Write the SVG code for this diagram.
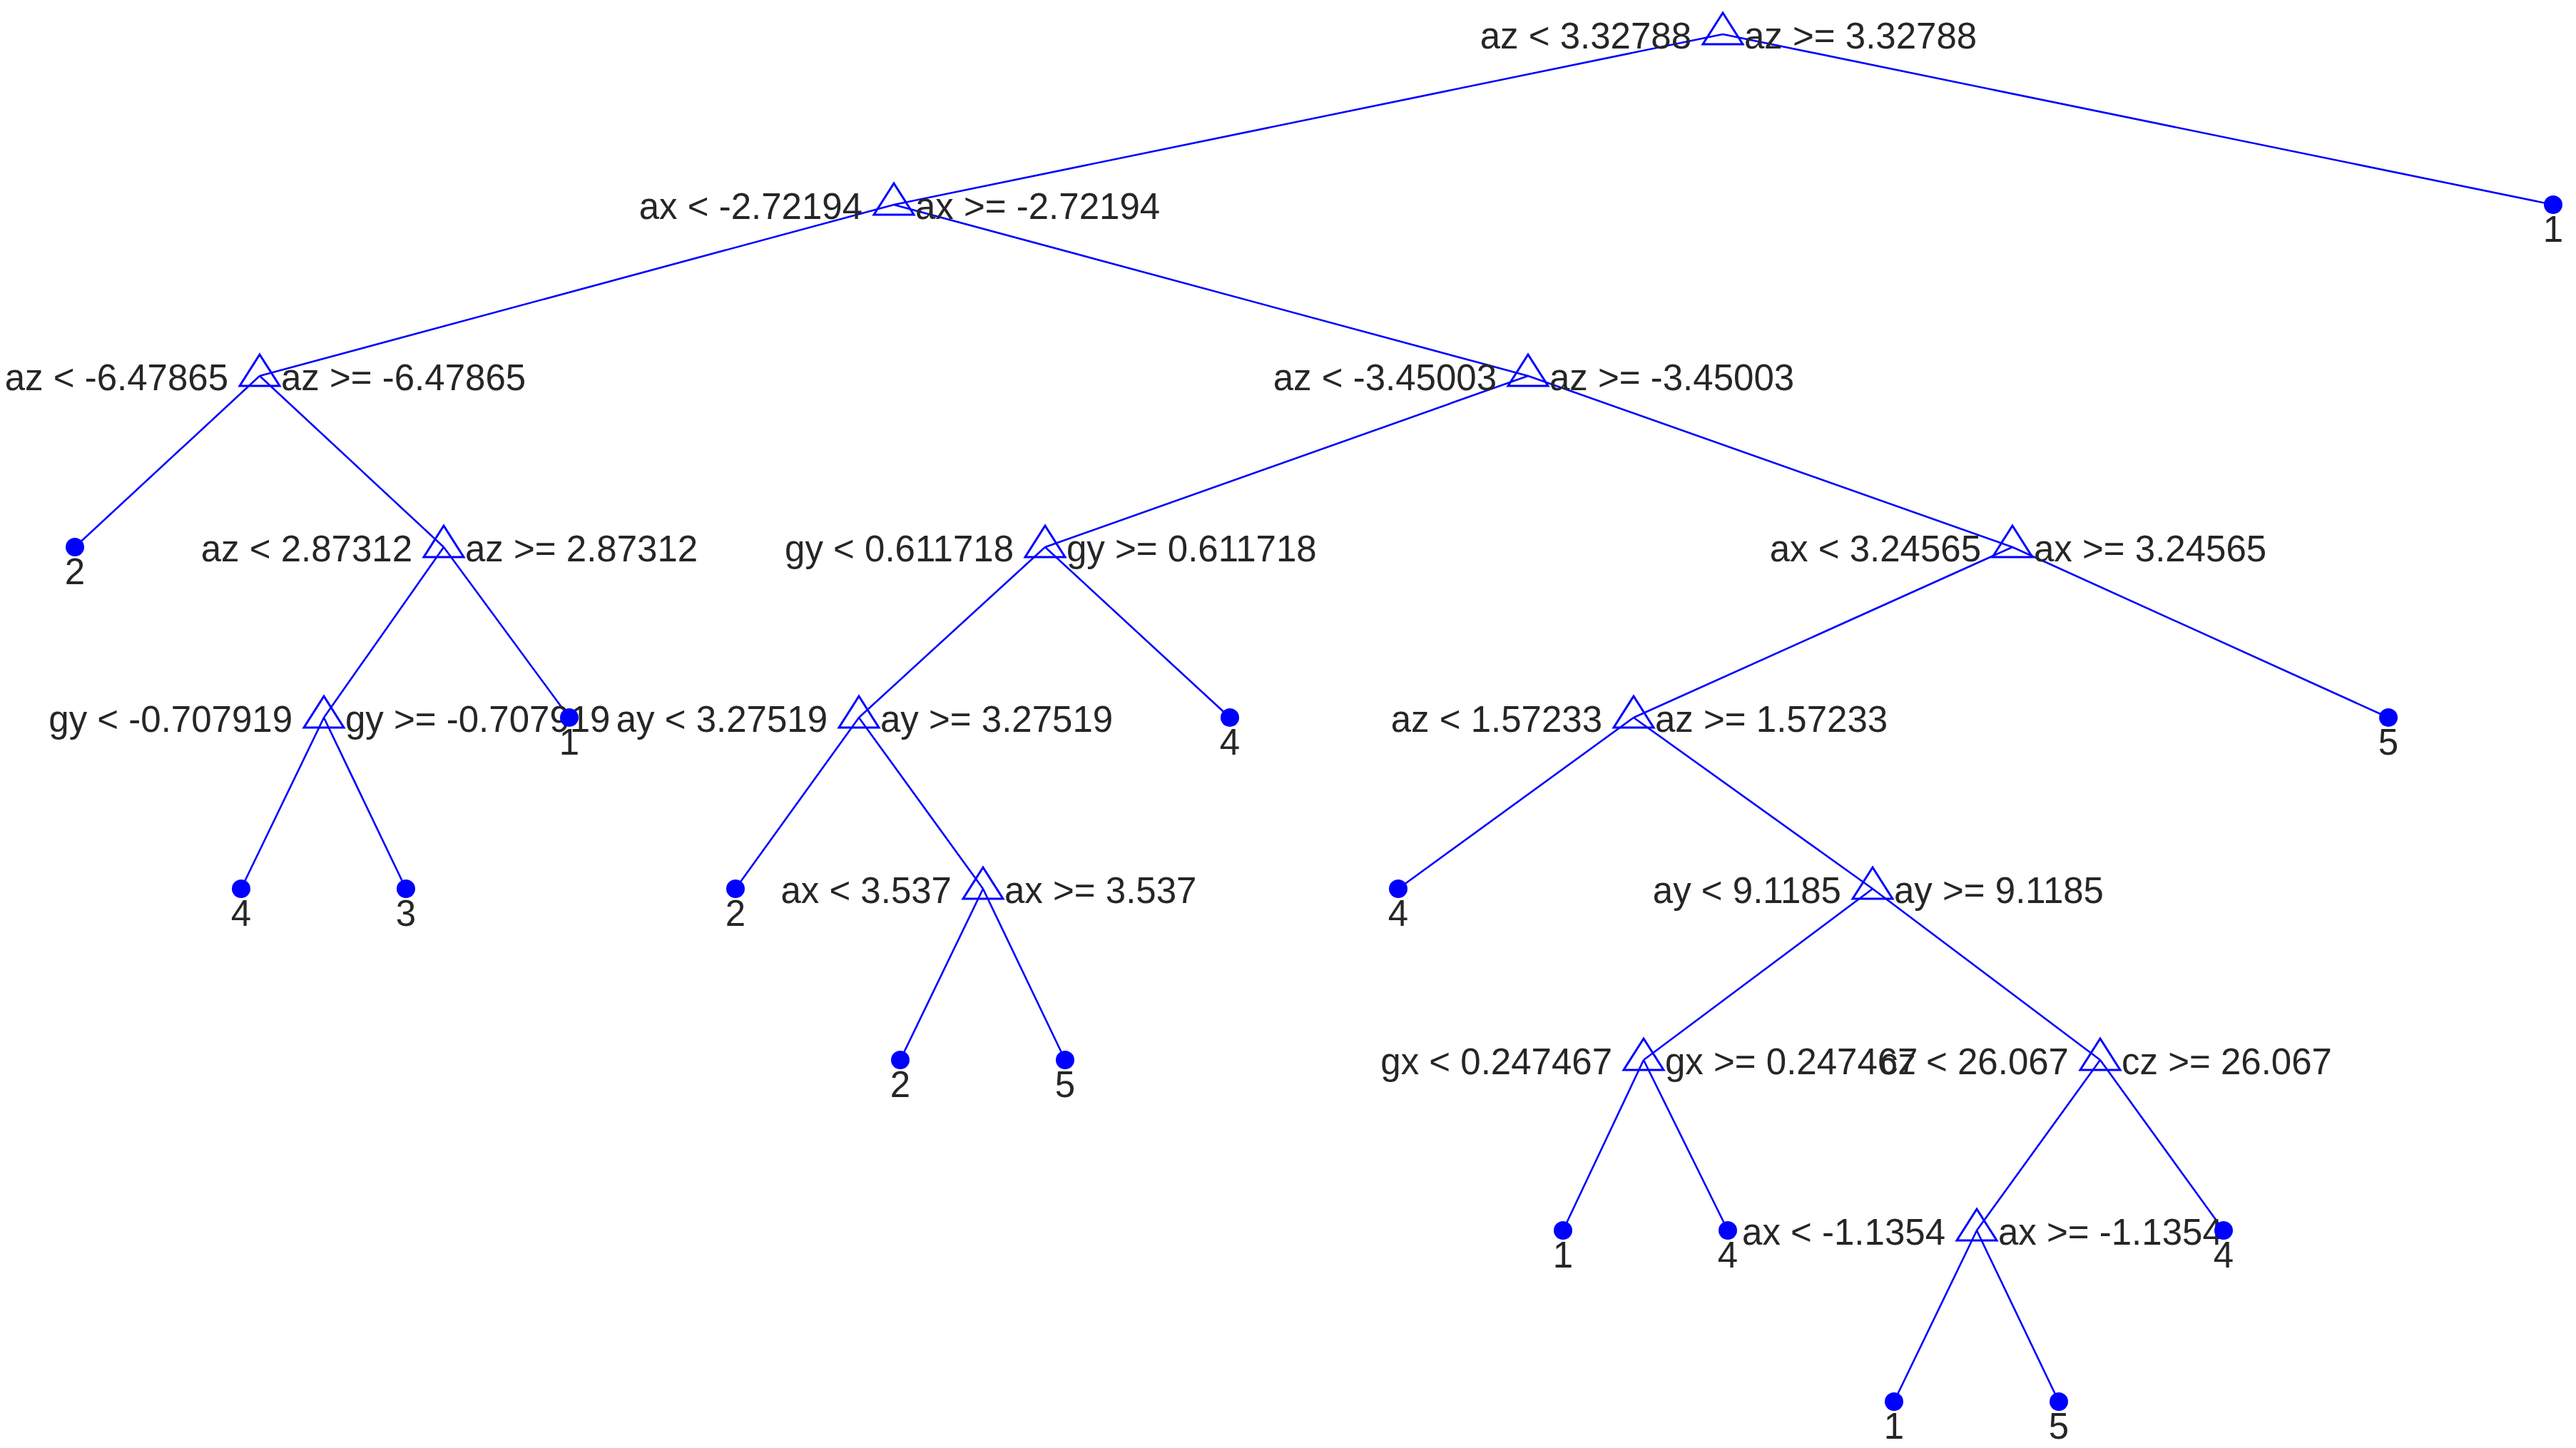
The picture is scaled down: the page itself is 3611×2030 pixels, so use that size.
<svg xmlns="http://www.w3.org/2000/svg" xmlns:xlink="http://www.w3.org/1999/xlink" width="3611" height="2030" viewBox="0 0 3611 2030">
<style>
.e{stroke:#0000ff;stroke-width:2.6;fill:none}
.t{font-family:"Liberation Sans",Arial,sans-serif;font-size:51px;fill:#262626}
.l{text-anchor:end}
.c{text-anchor:middle}
</style>
<defs>
<path id="tri" d="M0,-30 L-28,14 L28,14 Z" fill="none" stroke="#0000ff" stroke-width="3"/>
<circle id="dot" r="13" fill="#0000ff"/>
</defs>
<rect width="3611" height="2030" fill="#fff"/>
<g id="edges" class="e" transform="translate(-6,0)">
<path d="M2421,48L1259,287M2421,48L3585,287M1259,287L370,527M1259,287L2148,527M370,527L111,767M370,527L628,767M2148,527L1471,767M2148,527L2827,767M628,767L460,1006M628,767L804,1006M1471,767L1210,1006M1471,767L1730,1006M2827,767L2296,1006M2827,767L3354,1006M460,1006L344,1246M460,1006L575,1246M1210,1006L1037,1246M1210,1006L1384,1246M2296,1006L1966,1246M2296,1006L2631,1246M1384,1246L1268,1486M1384,1246L1499,1486M2631,1246L2310,1486M2631,1246L2950,1486M2310,1486L2197,1725M2310,1486L2428,1725M2950,1486L2777,1725M2950,1486L3123,1725M2777,1725L2661,1965M2777,1725L2892,1965"/>
</g>
<g transform="translate(-6,0)">
<g id="n0" transform="translate(2421,48)"><use xlink:href="#tri"/><text class="t l" x="-44" y="20">az &lt; 3.32788</text><text class="t" x="30" y="20">az &gt;= 3.32788</text></g>
<g id="n1" transform="translate(1259,287)"><use xlink:href="#tri"/><text class="t l" x="-44" y="20">ax &lt; -2.72194</text><text class="t" x="30" y="20">ax &gt;= -2.72194</text></g>
<g id="n2" transform="translate(370,527)"><use xlink:href="#tri"/><text class="t l" x="-44" y="20">az &lt; -6.47865</text><text class="t" x="30" y="20">az &gt;= -6.47865</text></g>
<g id="n3" transform="translate(2148,527)"><use xlink:href="#tri"/><text class="t l" x="-44" y="20">az &lt; -3.45003</text><text class="t" x="30" y="20">az &gt;= -3.45003</text></g>
<g id="n4" transform="translate(628,767)"><use xlink:href="#tri"/><text class="t l" x="-44" y="20">az &lt; 2.87312</text><text class="t" x="30" y="20">az &gt;= 2.87312</text></g>
<g id="n5" transform="translate(1471,767)"><use xlink:href="#tri"/><text class="t l" x="-44" y="20">gy &lt; 0.611718</text><text class="t" x="30" y="20">gy &gt;= 0.611718</text></g>
<g id="n6" transform="translate(2827,767)"><use xlink:href="#tri"/><text class="t l" x="-44" y="20">ax &lt; 3.24565</text><text class="t" x="30" y="20">ax &gt;= 3.24565</text></g>
<g id="n7" transform="translate(460,1006)"><use xlink:href="#tri"/><text class="t l" x="-44" y="20">gy &lt; -0.707919</text><text class="t" x="30" y="20">gy &gt;= -0.707919</text></g>
<g id="n8" transform="translate(1210,1006)"><use xlink:href="#tri"/><text class="t l" x="-44" y="20">ay &lt; 3.27519</text><text class="t" x="30" y="20">ay &gt;= 3.27519</text></g>
<g id="n9" transform="translate(2296,1006)"><use xlink:href="#tri"/><text class="t l" x="-44" y="20">az &lt; 1.57233</text><text class="t" x="30" y="20">az &gt;= 1.57233</text></g>
<g id="n10" transform="translate(1384,1246)"><use xlink:href="#tri"/><text class="t l" x="-44" y="20">ax &lt; 3.537</text><text class="t" x="30" y="20">ax &gt;= 3.537</text></g>
<g id="n11" transform="translate(2631,1246)"><use xlink:href="#tri"/><text class="t l" x="-44" y="20">ay &lt; 9.1185</text><text class="t" x="30" y="20">ay &gt;= 9.1185</text></g>
<g id="n12" transform="translate(2310,1486)"><use xlink:href="#tri"/><text class="t l" x="-44" y="20">gx &lt; 0.247467</text><text class="t" x="30" y="20">gx &gt;= 0.247467</text></g>
<g id="n13" transform="translate(2950,1486)"><use xlink:href="#tri"/><text class="t l" x="-44" y="20">cz &lt; 26.067</text><text class="t" x="30" y="20">cz &gt;= 26.067</text></g>
<g id="n14" transform="translate(2777,1725)"><use xlink:href="#tri"/><text class="t l" x="-44" y="20">ax &lt; -1.1354</text><text class="t" x="30" y="20">ax &gt;= -1.1354</text></g>
<g id="leaf1" transform="translate(3585,287)"><use xlink:href="#dot"/><text class="t c" y="52">1</text></g>
<g id="leaf2" transform="translate(111,767)"><use xlink:href="#dot"/><text class="t c" y="52">2</text></g>
<g id="leaf3" transform="translate(804,1006)"><use xlink:href="#dot"/><text class="t c" y="52">1</text></g>
<g id="leaf4" transform="translate(1730,1006)"><use xlink:href="#dot"/><text class="t c" y="52">4</text></g>
<g id="leaf5" transform="translate(3354,1006)"><use xlink:href="#dot"/><text class="t c" y="52">5</text></g>
<g id="leaf6" transform="translate(344,1246)"><use xlink:href="#dot"/><text class="t c" y="52">4</text></g>
<g id="leaf7" transform="translate(575,1246)"><use xlink:href="#dot"/><text class="t c" y="52">3</text></g>
<g id="leaf8" transform="translate(1037,1246)"><use xlink:href="#dot"/><text class="t c" y="52">2</text></g>
<g id="leaf9" transform="translate(1966,1246)"><use xlink:href="#dot"/><text class="t c" y="52">4</text></g>
<g id="leaf10" transform="translate(1268,1486)"><use xlink:href="#dot"/><text class="t c" y="52">2</text></g>
<g id="leaf11" transform="translate(1499,1486)"><use xlink:href="#dot"/><text class="t c" y="52">5</text></g>
<g id="leaf12" transform="translate(2197,1725)"><use xlink:href="#dot"/><text class="t c" y="52">1</text></g>
<g id="leaf13" transform="translate(2428,1725)"><use xlink:href="#dot"/><text class="t c" y="52">4</text></g>
<g id="leaf14" transform="translate(3123,1725)"><use xlink:href="#dot"/><text class="t c" y="52">4</text></g>
<g id="leaf15" transform="translate(2661,1965)"><use xlink:href="#dot"/><text class="t c" y="52">1</text></g>
<g id="leaf16" transform="translate(2892,1965)"><use xlink:href="#dot"/><text class="t c" y="52">5</text></g>
</g>
</svg>
